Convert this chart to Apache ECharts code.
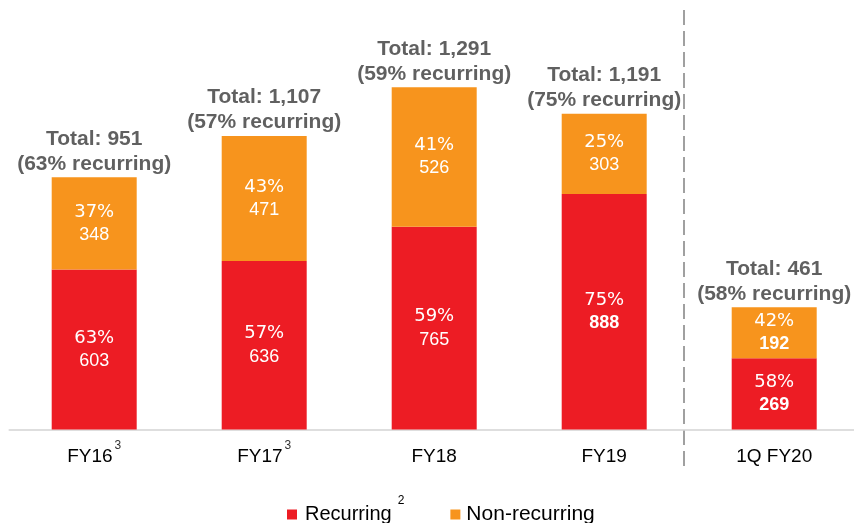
<!DOCTYPE html>
<html lang="en">
<head>
<meta charset="UTF-8" />
<title>Recurring vs non-recurring</title>
<style>
  html, body { margin: 0; padding: 0; background: #fff; }
  #chart { width: 854px; height: 523px; }
</style>
</head>
<body>
<div id="chart"></div>
<script src="https://cdn.jsdelivr.net/npm/echarts@6/dist/echarts.min.js"></script>
<script>
  // categories and footnote marks
  var categories = ['FY16', 'FY17', 'FY18', 'FY19', '1Q FY20'];
  var footnotes = ['3', '3', '', '', ''];

  // values
  var recurring = [603, 636, 765, 888, 269];
  var nonRecurring = [348, 471, 526, 303, 192];
  var recurringPct = [63, 57, 59, 75, 58];
  var nonRecurringPct = [37, 43, 41, 25, 42];
  var totals = [951, 1107, 1291, 1191, 461];

  // which value labels are bold in the original
  var boldRecurring = [false, false, false, true, true];
  var boldNonRecurring = [false, false, false, false, true];

  var RED = '#ED1C24';
  var ORANGE = '#F7941D';

  var chart = echarts.init(document.getElementById('chart'));

  var insideRich = {
    p: { fontFamily: 'DejaVu Sans', fontSize: 18, color: '#fff', lineHeight: 23 },
    v: { fontFamily: 'Liberation Sans', fontSize: 18, color: '#fff', lineHeight: 23 },
    b: { fontFamily: 'Liberation Sans', fontSize: 18, fontWeight: 'bold', color: '#fff', lineHeight: 23 }
  };

  function insideLabel(pcts, bolds) {
    return function (p) {
      var i = p.dataIndex;
      var tag = bolds[i] ? 'b' : 'v';
      return '{p|' + pcts[i] + '%}\n{' + tag + '|' + p.value + '}';
    };
  }

  var option = {
    backgroundColor: '#fff',
    animation: false,
    grid: { left: 9.2, width: 850, top: 31.8, bottom: 93.5, outerBoundsMode: 'none', containLabel: false },
    legend: {
      bottom: -7,
      left: 282,
      icon: 'rect',
      itemWidth: 10,
      itemHeight: 10,
      itemGap: 46,
      data: ['Recurring', 'Non-recurring'],
      formatter: function (name) {
        return name === 'Recurring' ? '{n|Recurring}{s|2}' : '{m|' + name + '}';
      },
      textStyle: {
        rich: {
          n: { fontFamily: 'Liberation Sans', fontSize: 20, color: '#000', lineHeight: 40, padding: [0, 0, 0, 3] },
          m: { fontFamily: 'Liberation Sans', fontSize: 21, color: '#000', lineHeight: 40, padding: [0, 0, 0, 1] },
          s: { fontFamily: 'Liberation Sans', fontSize: 12, color: '#000', verticalAlign: 'top', padding: [0, 0, 0, 6] }
        }
      }
    },
    xAxis: {
      type: 'category',
      data: categories,
      axisLine: { lineStyle: { color: '#d4d4d4', width: 1.5 } },
      axisTick: { show: false },
      axisLabel: {
        margin: 10,
        formatter: function (v, i) {
          return '{n|' + v + '}' + (footnotes[i] ? '{s|' + footnotes[i] + '}' : '');
        },
        rich: {
          n: { fontFamily: 'Liberation Sans', fontSize: 19, color: '#000', lineHeight: 34 },
          s: { fontFamily: 'Liberation Sans', fontSize: 12, color: '#333', verticalAlign: 'top', padding: [0, 0, 0, 2] }
        }
      }
    },
    yAxis: {
      type: 'value',
      min: 0,
      max: 1500,
      show: false,
      splitLine: { show: false }
    },
    series: [
      {
        name: 'Recurring',
        type: 'bar',
        stack: 'total',
        barWidth: 85,
        data: recurring,
        itemStyle: { color: RED },
        label: {
          show: true,
          position: 'inside',
          formatter: insideLabel(recurringPct, boldRecurring),
          rich: insideRich
        }
      },
      {
        name: 'Non-recurring',
        type: 'bar',
        stack: 'total',
        barWidth: 85,
        data: nonRecurring,
        itemStyle: { color: ORANGE },
        label: {
          show: true,
          position: 'inside',
          formatter: insideLabel(nonRecurringPct, boldNonRecurring),
          rich: insideRich
        }
      },
      {
        name: 'Total',
        type: 'scatter',
        data: totals,
        symbolSize: 0,
        silent: true,
        label: {
          show: true,
          position: 'top',
          distance: 1,
          fontFamily: 'Liberation Sans',
          fontSize: 21,
          fontWeight: 'bold',
          color: '#383838',
          lineHeight: 25,
          formatter: function (p) {
            var i = p.dataIndex;
            return 'Total: ' + totals[i].toLocaleString('en-US') + '\n(' + recurringPct[i] + '% recurring)';
          }
        }
      }
    ]
  };

  chart.setOption(option);

  // dashed divider between the annual bars and the quarter bar
  var x3 = chart.convertToPixel({ xAxisIndex: 0 }, categories[3]);
  var x4 = chart.convertToPixel({ xAxisIndex: 0 }, categories[4]);
  var divX = Math.round((x3 + x4) / 2) - 5;
  chart.setOption({
    graphic: [{
      type: 'line',
      silent: true,
      shape: { x1: divX, y1: 10, x2: divX, y2: 466 },
      style: { stroke: '#a0a0a0', lineWidth: 2, lineDash: [15, 6] }
    }]
  });
</script>
</body>
</html>
